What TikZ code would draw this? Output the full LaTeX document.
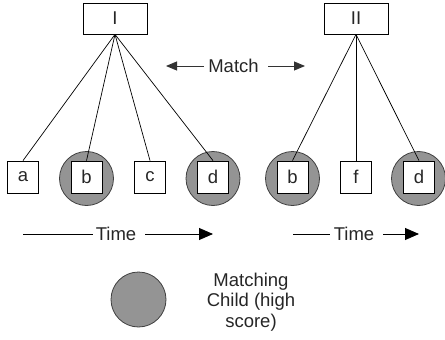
\documentclass[tikz,border=0pt]{standalone}
\usepackage{fontspec}
\setmainfont{Liberation Sans}
\usetikzlibrary{arrows.meta}
\begin{document}
\begin{tikzpicture}[x=1pt,y=-1pt,
  every node/.style={font=\fontsize{18.5}{20.5}\selectfont,text=black!85},
  box/.style={draw=black,line width=0.8pt,fill=white,minimum width=31pt,minimum height=32pt,inner sep=0pt},
  rootbox/.style={box,minimum width=64pt,minimum height=31pt},
  hit/.style={circle,draw=black!75,line width=0.8pt,fill=black!42,minimum size=54pt,inner sep=0pt},
  link/.style={draw=black,line width=0.7pt},
  marr/.style={draw=black!80,line width=0.9pt,-{Triangle[length=11pt,width=9pt]}},
  tarr/.style={draw=black,line width=0.9pt,-{Triangle[length=14pt,width=12pt]}},
  plain/.style={draw=black,line width=0.9pt}]
\useasboundingbox (0,0) rectangle (445,340);
% highlight circles
\node[hit] (cb1) at (86.5,178.5) {};
\node[hit] (cd1) at (213,178.5) {};
\node[hit] (cb2) at (292.5,178.5) {};
\node[hit] (cd2) at (418.5,178.5) {};
% roots
\node[rootbox] (I) at (115,18.5) {I};
\node[rootbox] (II) at (356,18.5) {II};
% leaves
\node[box] (a) at (23,177) {a};
\node[box] (b) at (86.5,177) {b};
\node[box] (c) at (150,177) {c};
\node[box] (d) at (213,177) {d};
\node[box] (b2) at (292.5,177) {b};
\node[box] (f) at (356,177) {f};
\node[box] (d2) at (419,177) {d};
% edges
\draw[link] (I.south) -- (a.north);
\draw[link] (I.south) -- (b.north);
\draw[link] (I.south) -- (c.north);
\draw[link] (I.south) -- (d.north);
\draw[link] (II.south) -- (b2.north);
\draw[link] (II.south) -- (f.north);
\draw[link] (II.south) -- (d2.north);
% Match arrow
\node[inner sep=0pt] (match) at (233.5,66) {Match};
\coordinate (mL) at (166,66);
\coordinate (mR) at (305,66);
\coordinate (mLs) at (204,66);
\coordinate (mRs) at (268,66);
\draw[marr] (mLs) -- (mL);
\draw[marr] (mRs) -- (mR);
% Time arrows
\node[inner sep=0pt] (time1) at (116,234) {Time};
\node[inner sep=0pt] (time2) at (354,234) {Time};
\coordinate (t1a) at (23,234);
\coordinate (t1b) at (93,234);
\coordinate (t1c) at (145,234);
\coordinate (t1d) at (213,234);
\coordinate (t2a) at (293,234);
\coordinate (t2b) at (330,234);
\coordinate (t2c) at (383,234);
\coordinate (t2d) at (419,234);
\draw[plain] (t1a) -- (t1b);
\draw[tarr] (t1c) -- (t1d);
\draw[plain] (t2a) -- (t2b);
\draw[tarr] (t2c) -- (t2d);
% legend
\node[hit,minimum size=55pt] (leg) at (138.5,299.5) {};
\node[align=center,inner sep=0pt] (legtext) at (251,302) {Matching\\Child (high\\score)};
\end{tikzpicture}
\end{document}
